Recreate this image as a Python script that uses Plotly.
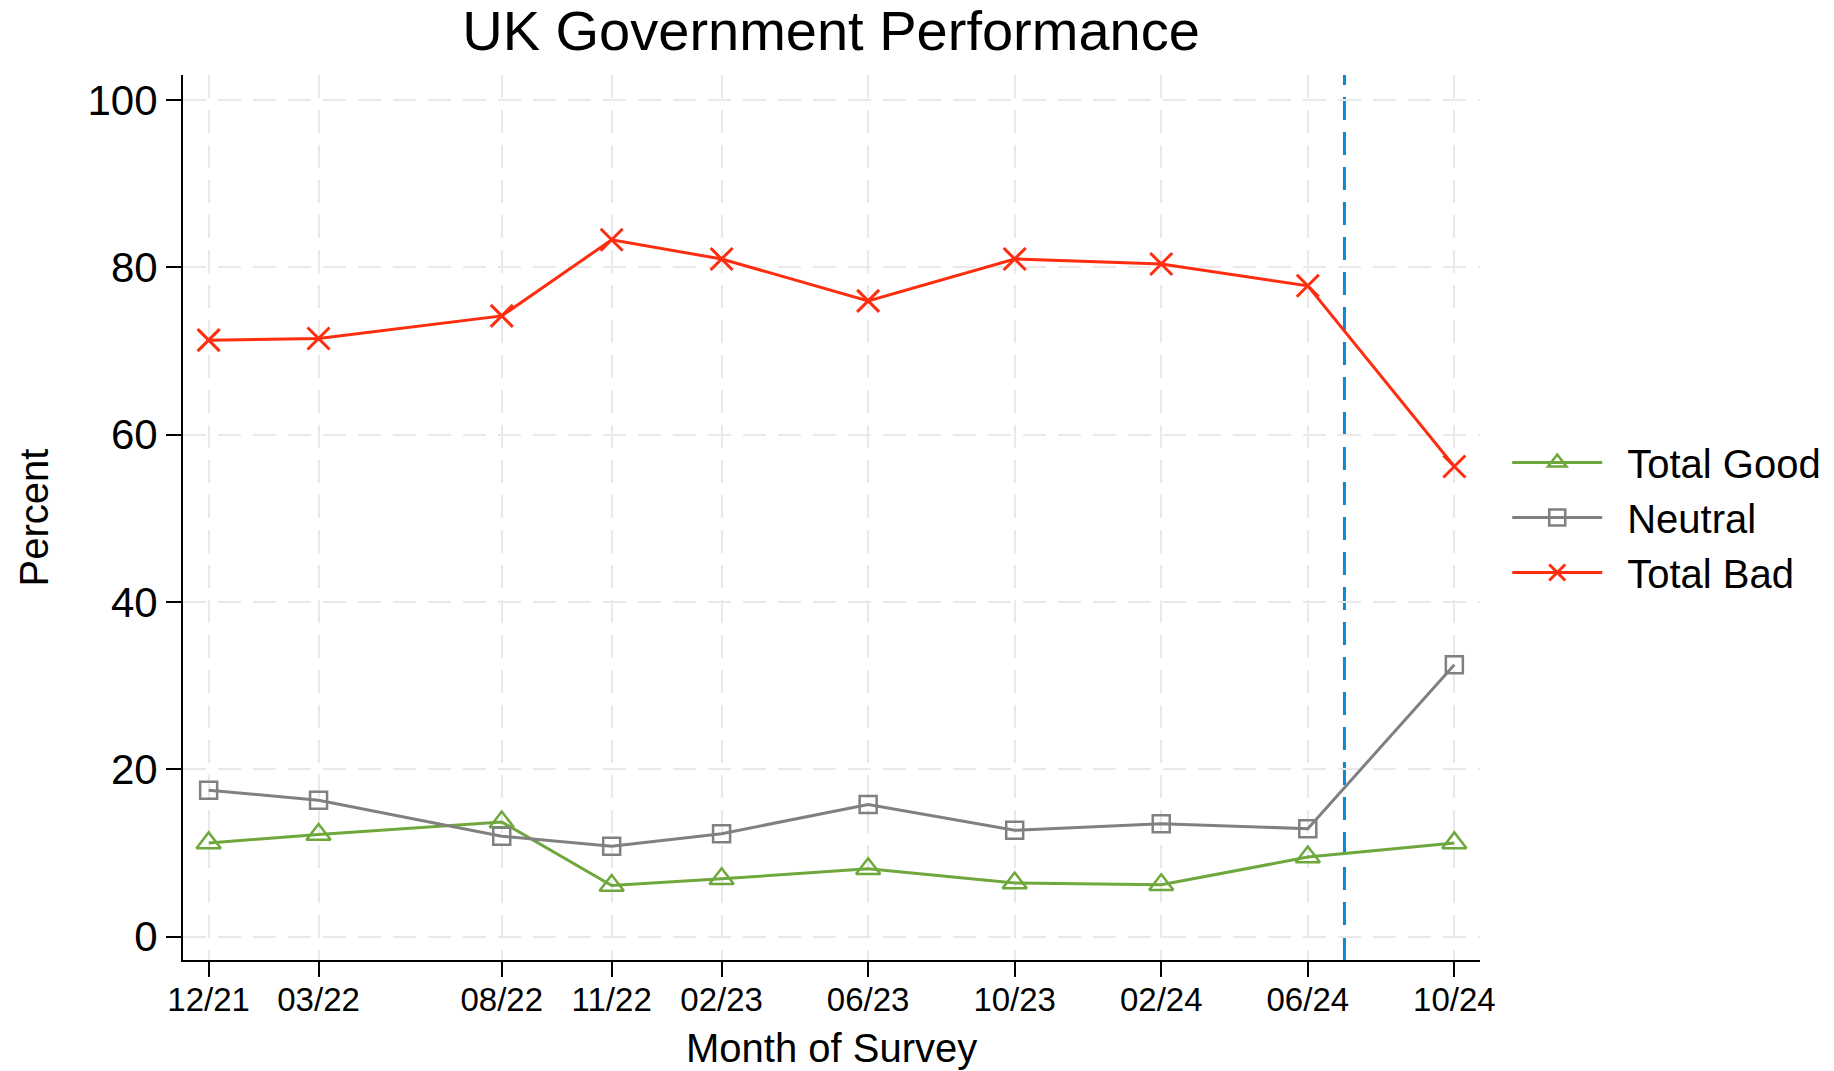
import plotly.graph_objects as go

# ---- data ----
months = ["12/21", "03/22", "08/22", "11/22", "02/23", "06/23", "10/23", "02/24", "06/24", "10/24"]
total_good = [11.2, 12.2, 13.7, 6.1, 6.9, 8.1, 6.4, 6.2, 9.5, 11.2]
neutral = [17.5, 16.3, 12.0, 10.8, 12.3, 15.8, 12.7, 13.5, 12.9, 32.5]
total_bad = [71.3, 71.5, 74.2, 83.3, 81.0, 76.0, 81.0, 80.4, 77.8, 56.2]
series_names = ["Total Good", "Neutral", "Total Bad"]
event_month = "07/24"
y_ticks = [0, 20, 40, 60, 80, 100]


def month_index(label):
    m, y = label.split("/")
    return int(y) * 12 + int(m) - (21 * 12 + 12)


x = [month_index(m) for m in months]
x_event = month_index(event_month)

FONT = "Liberation Sans, Arial, Helvetica, sans-serif"
GREEN = "#6EA83C"
GRAY = "#808080"
RED = "#FF2D0F"
BLUE = "#0A8AD6"
GRID = "#E9E9E9"
DASH = "23px,12px"
PAD = "\u2002"  # small gap between legend symbol and text

fig = go.Figure()
fig.add_trace(go.Scatter(
    x=x, y=total_good, name=PAD + series_names[0], mode="lines+markers",
    line=dict(color=GREEN, width=3),
    marker=dict(symbol="triangle-up-open", size=21, color=GREEN, line=dict(width=2.5, color=GREEN)),
))
fig.add_trace(go.Scatter(
    x=x, y=neutral, name=PAD + series_names[1], mode="lines+markers",
    line=dict(color=GRAY, width=3),
    marker=dict(symbol="square-open", size=17, color=GRAY, line=dict(width=2.5, color=GRAY)),
))
fig.add_trace(go.Scatter(
    x=x, y=total_bad, name=PAD + series_names[2], mode="lines+markers",
    line=dict(color=RED, width=3),
    marker=dict(symbol="x-thin-open", size=22, color=RED, line=dict(width=3, color=RED)),
))

fig.add_shape(type="line", x0=x_event, x1=x_event, xref="x", y0=0, y1=1, yref="paper",
              line=dict(color=BLUE, width=3, dash=DASH), layer="between")

plot_l, plot_r, plot_t, plot_b = 183, 1480, 75, 960
pw, ph = plot_r - plot_l, plot_b - plot_t

fig.add_annotation(text="Percent", x=(33 - plot_l) / pw, y=0.5, xref="paper", yref="paper",
                   xanchor="center", yanchor="middle",
                   showarrow=False, textangle=-90, font=dict(size=40, color="black", family=FONT))
fig.add_annotation(text="Month of Survey", x=(831 - plot_l) / pw, y=(plot_b - 1048) / ph,
                   xref="paper", yref="paper", xanchor="center", yanchor="middle",
                   showarrow=False, font=dict(size=40, color="black", family=FONT))

fig.update_layout(
    width=1834, height=1071,
    paper_bgcolor="white", plot_bgcolor="white",
    margin=dict(l=plot_l, r=1834 - plot_r, t=plot_t, b=1071 - plot_b, autoexpand=False),
    font=dict(family=FONT, color="black"),
    title=dict(text="UK Government Performance", x=831 / 1834, xanchor="center",
               y=1 - 30 / 1071, yanchor="middle", yref="container",
               font=dict(size=56, color="black", family=FONT)),
    showlegend=True,
    legend=dict(x=1.021, xanchor="left", y=0.5, yanchor="middle",
                font=dict(size=40, color="black", family=FONT),
                itemwidth=90, bgcolor="rgba(0,0,0,0)", tracegroupgap=0),
    xaxis=dict(
        range=[-0.7, 34.7], tickmode="array", tickvals=x, ticktext=months,
        showline=True, linecolor="black", linewidth=2, mirror=False,
        ticks="outside", ticklen=15, tickwidth=2, tickcolor="black",
        tickfont=dict(size=33, color="black", family=FONT),
        ticklabelstandoff=-6,
        showgrid=True, gridcolor=GRID, gridwidth=2, griddash=DASH, zeroline=False,
    ),
    yaxis=dict(
        range=[-2.8, 103], tickmode="array", tickvals=y_ticks,
        showline=True, linecolor="black", linewidth=2, mirror=False,
        ticks="outside", ticklen=15, tickwidth=2, tickcolor="black",
        tickfont=dict(size=42, color="black", family=FONT),
        showgrid=True, gridcolor=GRID, gridwidth=2, griddash=DASH, zeroline=False,
    ),
)

fig.write_html("out.html", config=dict(displayModeBar=False),
               post_script="document.body.style.margin='0';")
